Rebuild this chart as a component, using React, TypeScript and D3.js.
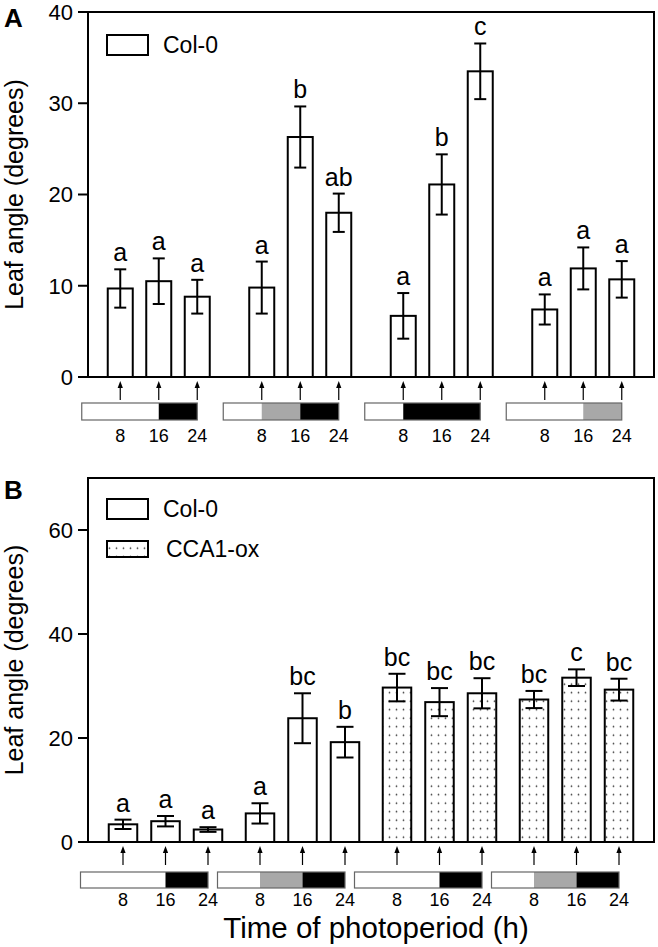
import React from "react";
import * as d3 from "d3";

// ---------- data ----------
const groups = ["G1", "G2", "G3", "G4"];
const hourTicks = [8, 16, 24];
const hourTickLabels = ["8", "16", "24"];

const meanA = [9.7, 10.5, 8.8, 9.8, 26.3, 18.0, 6.7, 21.1, 33.5, 7.4, 11.9, 10.7];
const errA = [2.1, 2.5, 1.85, 2.85, 3.35, 2.1, 2.5, 3.3, 3.05, 1.65, 2.3, 2.0];
const lettersA = ["a", "a", "a", "a", "b", "ab", "a", "b", "c", "a", "a", "a"];
const genoA = ["Col-0", "Col-0", "Col-0", "Col-0", "Col-0", "Col-0", "Col-0", "Col-0", "Col-0", "Col-0", "Col-0", "Col-0"];
const photoA = [["W", "W", "K"], ["W", "G", "K"], ["W", "K", "K"], ["W", "W", "G"]];
const ticksA = [0, 10, 20, 30, 40];

const meanB = [3.4, 4.0, 2.4, 5.5, 23.8, 19.2, 29.7, 26.9, 28.6, 27.4, 31.6, 29.3];
const errB = [0.9, 1.0, 0.45, 1.95, 4.8, 2.95, 2.65, 2.7, 2.9, 1.65, 1.6, 2.1];
const lettersB = ["a", "a", "a", "a", "bc", "b", "bc", "bc", "bc", "bc", "c", "bc"];
const genoB = ["Col-0", "Col-0", "Col-0", "Col-0", "Col-0", "Col-0", "CCA1-ox", "CCA1-ox", "CCA1-ox", "CCA1-ox", "CCA1-ox", "CCA1-ox"];
const photoB = [["W", "W", "K"], ["W", "G", "K"], ["W", "W", "K"], ["W", "G", "K"]];
const ticksB = [0, 20, 40, 60];

const legendA = ["Col-0"];
const legendB = ["Col-0", "CCA1-ox"];

const FONT = "'Liberation Sans', Arial, Helvetica, sans-serif";
const photoFill: Record<string, string> = { W: "#ffffff", G: "#a8a8a8", K: "#000000" };
const genoFill: Record<string, string> = { "Col-0": "#ffffff", "CCA1-ox": "url(#dots)" };

type Cfg = {
  id: string;
  top: number; bottom: number; left: number; right: number;
  yMax: number; ticks: number[];
  groupRange: [number, number]; step: number; barW: number; capW: number;
  means: number[]; errs: number[]; letters: string[]; geno: string[];
  photo: string[][];
  legend: string[]; legendY: number[];
  panelLabel: string; panelLabelY: number;
  tlTop: number; tlH: number; tlLabelY: number;
};

// merge adjacent same-colour 8 h blocks into segments
const segments = (blocks: string[]) => {
  const out: { s: number; e: number; p: string }[] = [];
  blocks.forEach((p, k) => {
    const last = out[out.length - 1];
    if (last && last.p === p) last.e = (k + 1) * 8;
    else out.push({ s: k * 8, e: (k + 1) * 8, p });
  });
  return out;
};

const Panel = ({ c }: { c: Cfg }) => {
  const y = d3.scaleLinear().domain([0, c.yMax]).range([c.bottom, c.top]);
  const gx = d3.scaleBand<string>().domain(groups).range(c.groupRange).padding(0);
  const hx = (g: string, h: number) => (gx(g) as number) + gx.bandwidth() / 2 + ((h - 16) * c.step) / 8;
  const bars = c.means.map((m, i) => {
    const g = groups[Math.floor(i / 3)];
    const cx = hx(g, hourTicks[i % 3]);
    return { m, e: c.errs[i], l: c.letters[i], geno: c.geno[i], cx };
  });
  const midY = (c.top + c.bottom) / 2;
  return (
    <g>
      <text x={4} y={c.panelLabelY} fontFamily={FONT} fontWeight="bold" fontSize={26}>{c.panelLabel}</text>
      <text transform={`translate(23,${midY}) rotate(-90)`} textAnchor="middle" fontFamily={FONT} fontSize={25}>Leaf angle (degrees)</text>
      {c.ticks.map((t) => (
        <g key={t}>
          <line x1={c.left - 10} x2={c.left} y1={y(t)} y2={y(t)} stroke="#000" strokeWidth={2} />
          <text x={c.left - 15} y={y(t)} dy="0.36em" textAnchor="end" fontFamily={FONT} fontSize={22}>{t}</text>
        </g>
      ))}
      {c.legend.map((name, i) => (
        <g key={name}>
          <rect x={107} y={c.legendY[i] - (name === "Col-0" ? 10 : 8)} width={41} height={name === "Col-0" ? 20 : 16}
            fill={genoFill[name]} stroke="#000" strokeWidth={2} />
          <text x={name === "Col-0" ? 163 : 166} y={c.legendY[i]} dy="0.36em" fontFamily={FONT} fontSize={23}>{name}</text>
        </g>
      ))}
      {bars.map((b, i) => (
        <g key={i}>
          <rect x={b.cx - c.barW / 2} y={y(b.m)} width={c.barW} height={c.bottom - y(b.m)}
            fill={genoFill[b.geno]} stroke="#000" strokeWidth={2} />
          <line x1={b.cx} x2={b.cx} y1={y(b.m + b.e)} y2={y(b.m - b.e)} stroke="#000" strokeWidth={2} />
          <line x1={b.cx - c.capW / 2} x2={b.cx + c.capW / 2} y1={y(b.m + b.e)} y2={y(b.m + b.e)} stroke="#000" strokeWidth={2} />
          <line x1={b.cx - c.capW / 2} x2={b.cx + c.capW / 2} y1={y(b.m - b.e)} y2={y(b.m - b.e)} stroke="#000" strokeWidth={2} />
          <text x={b.cx} y={y(b.m + b.e) - 8} textAnchor="middle" fontFamily={FONT} fontSize={25}>{b.l}</text>
          <line x1={b.cx} x2={b.cx} y1={c.bottom + 23} y2={c.bottom + 9} stroke="#000" strokeWidth={1.2} />
          <path d={`M${b.cx},${c.bottom + 4}L${b.cx - 2.6},${c.bottom + 11}L${b.cx + 2.6},${c.bottom + 11}Z`} fill="#000" />
        </g>
      ))}
      <rect x={c.left} y={c.top} width={c.right - c.left} height={c.bottom - c.top} fill="none" stroke="#000" strokeWidth={2} />
      {groups.map((g, gi) => (
        <g key={g}>
          {segments(c.photo[gi]).map((s, k) => (
            <rect key={k} x={hx(g, s.s)} y={c.tlTop} width={hx(g, s.e) - hx(g, s.s)} height={c.tlH} fill={photoFill[s.p]} />
          ))}
          <rect x={hx(g, 0)} y={c.tlTop} width={hx(g, 24) - hx(g, 0)} height={c.tlH} fill="none" stroke="#666" strokeWidth={1.2} />
          {hourTicks.map((h, k) => (
            <text key={h} x={hx(g, h)} y={c.tlLabelY} textAnchor="middle" fontFamily={FONT} fontSize={18}>{hourTickLabels[k]}</text>
          ))}
        </g>
      ))}
    </g>
  );
};

const cfgA: Cfg = {
  id: "A", top: 12, bottom: 377, left: 88, right: 654, yMax: 40, ticks: ticksA,
  groupRange: [88, 654], step: 38.5, barW: 25, capW: 12,
  means: meanA, errs: errA, letters: lettersA, geno: genoA, photo: photoA,
  legend: legendA, legendY: [45], panelLabel: "A", panelLabelY: 27,
  tlTop: 403, tlH: 17, tlLabelY: 442,
};

const cfgB: Cfg = {
  id: "B", top: 478, bottom: 842, left: 88, right: 654, yMax: 70, ticks: ticksB,
  groupRange: [97, 645], step: 42.5, barW: 28.5, capW: 17,
  means: meanB, errs: errB, letters: lettersB, geno: genoB, photo: photoB,
  legend: legendB, legendY: [509, 549], panelLabel: "B", panelLabelY: 499,
  tlTop: 872, tlH: 16, tlLabelY: 906,
};

export default function App() {
  return (
    <svg width={658} height={947} style={{ position: "absolute", left: 0, top: 0, background: "#fff" }}>
      <defs>
        <pattern id="dots" patternUnits="userSpaceOnUse" width={7} height={8.5} x={1} y={0}>
          <rect width={7} height={8.5} fill="#fff" />
          <circle cx={3.5} cy={4.2} r={0.85} fill="#333" />
        </pattern>
      </defs>
      <rect width={658} height={947} fill="#fff" />
      <Panel c={cfgA} />
      <Panel c={cfgB} />
      <text x={376} y={938} textAnchor="middle" fontFamily={FONT} fontSize={29.5}>Time of photoperiod (h)</text>
    </svg>
  );
}
